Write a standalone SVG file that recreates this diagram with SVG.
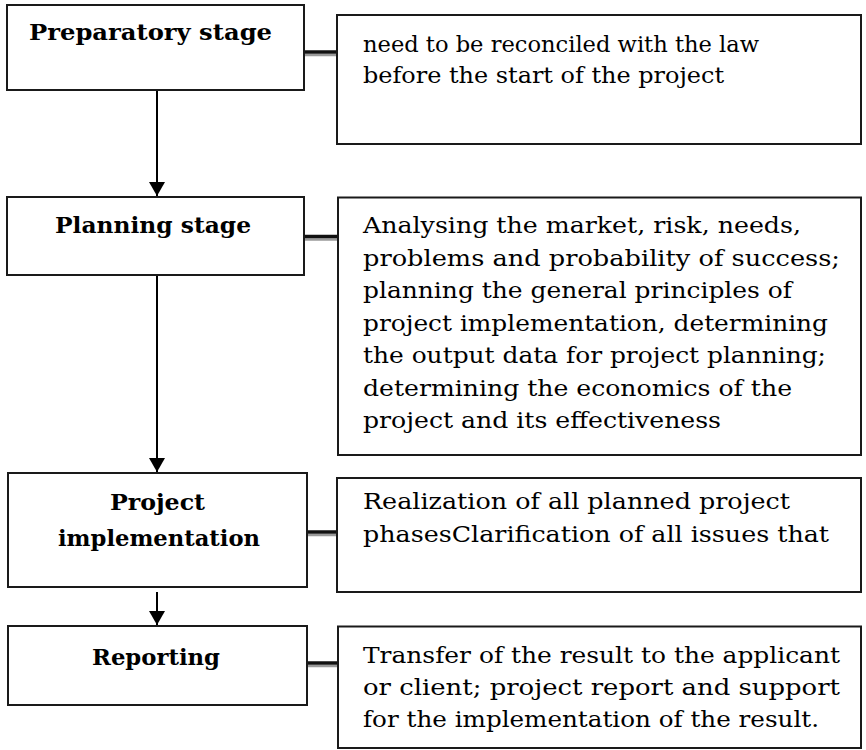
<svg xmlns="http://www.w3.org/2000/svg" width="866" height="750" viewBox="0 0 866 750">
  <style>
    .box { fill: #ffffff; stroke: #1a1a1a; stroke-width: 2; }
    .title { font-family: "DejaVu Serif", "Liberation Serif", serif; font-weight: bold; font-size: 22.5px; fill: #000; }
    .body { font-family: "DejaVu Serif", "Liberation Serif", serif; font-size: 23px; fill: #000; }
    .arrow { stroke: #000; stroke-width: 2; fill: none; }
    .side { stroke: #111; stroke-width: 3.5; }
    .sideShade { stroke: #9a9a9a; stroke-width: 2.5; }
  </style>
  <defs>
    <marker id="ah" markerUnits="userSpaceOnUse" markerWidth="14" markerHeight="16" refX="14" refY="8" orient="auto">
      <path d="M0,0 L14,8 L0,16 z" fill="#000"/>
    </marker>
  </defs>

  <rect x="0" y="0" width="866" height="750" fill="#ffffff"/>

  <g id="connectors">
    <line class="arrow" x1="157" y1="90" x2="157" y2="196" marker-end="url(#ah)"/>
    <line class="arrow" x1="157" y1="275" x2="157" y2="472" marker-end="url(#ah)"/>
    <line class="arrow" x1="157" y1="592" x2="157" y2="625" marker-end="url(#ah)"/>
    <line class="sideShade" x1="304" y1="55" x2="338" y2="55"/>
    <line class="side" x1="304" y1="52" x2="338" y2="52"/>
    <line class="sideShade" x1="304" y1="239.5" x2="338" y2="239.5"/>
    <line class="side" x1="304" y1="236.5" x2="338" y2="236.5"/>
    <line class="sideShade" x1="307" y1="535" x2="337" y2="535"/>
    <line class="side" x1="307" y1="532" x2="337" y2="532"/>
    <line class="sideShade" x1="307" y1="666" x2="338" y2="666"/>
    <line class="side" x1="307" y1="663" x2="338" y2="663"/>
  </g>

  <g id="preparatory">
    <rect class="box" x="7" y="5" width="297" height="85"/>
    <text class="title" x="29" y="40" textLength="243" lengthAdjust="spacingAndGlyphs">Preparatory stage</text>
  </g>
  <g id="preparatory-note">
    <rect class="box" x="337" y="15" width="524" height="129"/>
    <text class="body" x="363" y="52" textLength="396" lengthAdjust="spacingAndGlyphs">need to be reconciled with the law</text>
    <text class="body" x="363" y="83" textLength="361" lengthAdjust="spacingAndGlyphs">before the start of the project</text>
  </g>

  <g id="planning">
    <rect class="box" x="7" y="197" width="297" height="78"/>
    <text class="title" x="55" y="233" textLength="196" lengthAdjust="spacingAndGlyphs">Planning stage</text>
  </g>
  <g id="planning-note">
    <rect class="box" x="338" y="197.5" width="523" height="257.5"/>
    <text class="body" x="363" y="233" textLength="438" lengthAdjust="spacingAndGlyphs">Analysing the market, risk, needs,</text>
    <text class="body" x="363" y="265.5" textLength="477" lengthAdjust="spacingAndGlyphs">problems and probability of success;</text>
    <text class="body" x="363" y="298" textLength="429" lengthAdjust="spacingAndGlyphs">planning the general principles of</text>
    <text class="body" x="363" y="330.5" textLength="465" lengthAdjust="spacingAndGlyphs">project implementation, determining</text>
    <text class="body" x="363" y="363" textLength="463" lengthAdjust="spacingAndGlyphs">the output data for project planning;</text>
    <text class="body" x="363" y="395.5" textLength="429" lengthAdjust="spacingAndGlyphs">determining the economics of the</text>
    <text class="body" x="363" y="428" textLength="358" lengthAdjust="spacingAndGlyphs">project and its effectiveness</text>
  </g>

  <g id="implementation">
    <rect class="box" x="8" y="473" width="299" height="114"/>
    <text class="title" x="110" y="510" textLength="95" lengthAdjust="spacingAndGlyphs">Project</text>
    <text class="title" x="58" y="546" textLength="202" lengthAdjust="spacingAndGlyphs">implementation</text>
  </g>
  <g id="implementation-note">
    <rect class="box" x="337" y="478" width="524" height="114"/>
    <text class="body" x="363" y="509" textLength="427" lengthAdjust="spacingAndGlyphs">Realization of all planned project</text>
    <text class="body" x="363" y="542" textLength="466" lengthAdjust="spacingAndGlyphs">phasesClarification of all issues that</text>
  </g>

  <g id="reporting">
    <rect class="box" x="8" y="626" width="299" height="79"/>
    <text class="title" x="92" y="665" textLength="128" lengthAdjust="spacingAndGlyphs">Reporting</text>
  </g>
  <g id="reporting-note">
    <rect class="box" x="338" y="626.5" width="523" height="121.5"/>
    <text class="body" x="363" y="663" textLength="477" lengthAdjust="spacingAndGlyphs">Transfer of the result to the applicant</text>
    <text class="body" x="363" y="695" textLength="477" lengthAdjust="spacingAndGlyphs">or client; project report and support</text>
    <text class="body" x="363" y="727" textLength="456" lengthAdjust="spacingAndGlyphs">for the implementation of the result.</text>
  </g>
</svg>
